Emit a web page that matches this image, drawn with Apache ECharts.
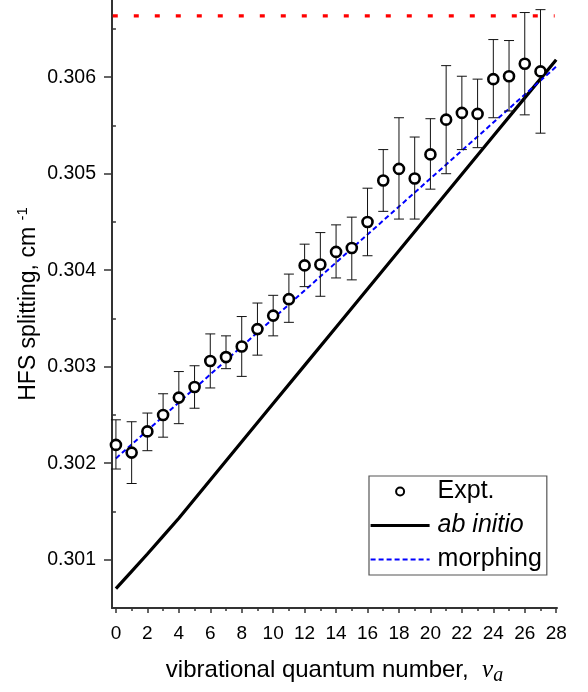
<!DOCTYPE html>
<html><head><meta charset="utf-8">
<script src="https://cdn.jsdelivr.net/npm/echarts@6/dist/echarts.min.js"></script>
<style>html,body{margin:0;padding:0;background:#fff}#c{width:588px;height:692px}</style>
</head><body><div id="c"></div>
<script>
// ---- data ----
const vib = [0,1,2,3,4,5,6,7,8,9,10,11,12,13,14,15,16,17,18,19,20,21,22,23,24,25,26,27];
const expt = [0.30219,0.30211,0.30233,0.30250,0.30268,0.30279,0.30306,0.30310,0.30321,0.30339,0.30353,0.30370,
  0.30405,0.30406,0.30419,0.30423,0.30450,0.30493,0.30505,0.30495,0.30520,0.30556,0.30563,0.30562,0.30598,0.30601,0.30614,0.30606];
const errLow = [0.30194,0.30179,0.30213,0.30227,0.30241,0.30257,0.30278,0.30298,0.30290,0.30312,0.30332,0.30346,
  0.30383,0.30373,0.30392,0.30390,0.30415,0.30461,0.30453,0.30453,0.30484,0.30500,0.30525,0.30527,0.30558,0.30565,0.30561,0.30542];
const errHigh = [0.30245,0.30243,0.30252,0.30272,0.30295,0.30301,0.30334,0.30332,0.30352,0.30366,0.30374,0.30396,
  0.30427,0.30439,0.30447,0.30455,0.30485,0.30525,0.30558,0.30538,0.30557,0.30612,0.30601,0.30598,0.30639,0.30638,0.30667,0.30670];
const abInitioV = [0,1,2,3,4,6,8,10,12,14,16,18,20,22,24,26,28];
const abInitioVal = [0.30070,0.30088,0.30106,0.301245,0.30143,0.301826,0.302222,0.302618,0.303014,0.30341,
  0.303806,0.304202,0.304598,0.304994,0.30539,0.305786,0.306182];
const morphV = [0, 28];
const morphVal = [0.30205, 0.30611];
const limitV = [-0.2, 27.9];
const limitVal = [0.306635, 0.306635];
const yMajor = [0.301,0.302,0.303,0.304,0.305,0.306];
const yMinor = [0.3005,0.3015,0.3025,0.3035,0.3045,0.3055,0.3065];
const xMajor = [0,2,4,6,8,10,12,14,16,18,20,22,24,26,28];
const xMinor = [1,3,5,7,9,11,13,15,17,19,21,23,25,27];

const zip = (a, b) => a.map((v, i) => [v, b[i]]);
const axisCol = '#333';
const font = 'Liberation Sans, Arial, sans-serif';
const serif = 'Liberation Serif, Times New Roman, serif';

const chart = echarts.init(document.getElementById('c'));
chart.setOption({
  animation: false,
  backgroundColor: '#fff',
  textStyle: {fontFamily: font, color: '#000'},
  grid: {left: 112, right: 31, top: 0, bottom: 84},
  xAxis: [{
    type: 'value', min: -0.25, max: 28.05,
    axisLine: {show: true, onZero: false, lineStyle: {color: axisCol, width: 2}},
    axisTick: {show: true, customValues: xMajor, length: 5, lineStyle: {color: axisCol, width: 1.5}},
    axisLabel: {customValues: xMajor, fontSize: 19, color: '#000', margin: 16, fontFamily: font},
    splitLine: {show: false},
    name: '{t|vibrational quantum number,  }{v|v}{s|a}',
    nameLocation: 'middle', nameGap: 46,
    nameTextStyle: {
      rich: {
        t: {fontSize: 24, fontFamily: font, color: '#000'},
        v: {fontSize: 25, fontFamily: serif, fontStyle: 'italic', color: '#000'},
        s: {fontSize: 20, fontFamily: serif, fontStyle: 'italic', color: '#000', padding: [12, 0, 0, 0]}
      }
    }
  }, {
    type: 'value', min: -0.25, max: 28.05, position: 'bottom',
    axisLine: {show: false},
    axisTick: {show: true, customValues: xMinor, length: 3, lineStyle: {color: axisCol, width: 1.5}},
    axisLabel: {show: false},
    splitLine: {show: false}
  }],
  yAxis: [{
    type: 'value', min: 0.3005, max: 0.3068,
    axisLine: {show: true, onZero: false, lineStyle: {color: axisCol, width: 2}},
    axisTick: {show: true, customValues: yMajor, length: 8, lineStyle: {color: axisCol, width: 1.5}},
    axisLabel: {customValues: yMajor, fontSize: 19.5, color: '#000', margin: 16, fontFamily: font,
      formatter: v => v.toFixed(3)},
    splitLine: {show: false},
    name: '{t|HFS splitting, cm }{u|-1}',
    nameLocation: 'middle', nameGap: 70, nameRotate: 90, nameMoveOverlap: false,
    nameTextStyle: {
      rich: {
        t: {fontSize: 23, fontFamily: font, color: '#000'},
        u: {fontSize: 15, fontFamily: font, color: '#000', padding: [0, 0, 12, 0]}
      }
    }
  }, {
    type: 'value', min: 0.3005, max: 0.3068, position: 'left',
    axisLine: {show: false},
    axisTick: {show: true, customValues: yMinor, length: 4, lineStyle: {color: axisCol, width: 1.5}},
    axisLabel: {show: false},
    splitLine: {show: false}
  }],
  legend: {
    orient: 'vertical', left: 369, top: 476,
    padding: [3, 5, 3, 0],
    borderColor: '#555', borderWidth: 1.2,
    itemWidth: 59, itemHeight: 8, itemGap: 9,
    textStyle: {fontSize: 25, fontFamily: font, color: '#000', padding: [0, 0, 0, 3]},
    data: [
      {name: 'Expt.'},
      {name: 'ab initio', textStyle: {fontStyle: 'italic'}, lineStyle: {width: 3.2},
        itemStyle: {opacity: 0, borderWidth: 0, color: 'rgba(0,0,0,0)'}},
      {name: 'morphing', lineStyle: {width: 2},
        itemStyle: {opacity: 0, borderWidth: 0, color: 'rgba(0,0,0,0)'}}
    ]
  },
  series: [
    {
      name: 'limit', type: 'line', data: zip(limitV, limitVal), symbol: 'none', silent: true,
      lineStyle: {color: '#ff0000', width: 3.3, type: [5, 16]}, z: 1
    },
    {
      name: 'ab initio', type: 'line', data: zip(abInitioV, abInitioVal), symbol: 'none', smooth: false,
      lineStyle: {color: '#000', width: 3.2}, itemStyle: {color: '#000'}, z: 2
    },
    {
      name: 'morphing', type: 'line', data: zip(morphV, morphVal), symbol: 'none',
      lineStyle: {color: '#0000ff', width: 2, type: [5, 3]}, itemStyle: {color: '#0000ff'}, z: 3
    },
    {
      name: 'err', type: 'custom', z: 4, silent: true,
      data: vib.map((v, i) => [v, errLow[i], errHigh[i]]),
      encode: {x: 0, y: [1, 2]},
      renderItem: (params, api) => {
        const x = api.value(0);
        const lo = api.coord([x, api.value(1)]);
        const hi = api.coord([x, api.value(2)]);
        const hw = 5;
        const st = {stroke: '#111', lineWidth: 1};
        return {type: 'group', children: [
          {type: 'line', shape: {x1: lo[0], y1: lo[1], x2: hi[0], y2: hi[1]}, style: st},
          {type: 'line', shape: {x1: lo[0] - hw, y1: lo[1], x2: lo[0] + hw, y2: lo[1]}, style: st},
          {type: 'line', shape: {x1: hi[0] - hw, y1: hi[1], x2: hi[0] + hw, y2: hi[1]}, style: st}
        ]};
      }
    },
    {
      name: 'Expt.', type: 'scatter', data: zip(vib, expt), symbol: 'circle', symbolSize: 10,
      itemStyle: {color: '#fff', borderColor: '#000', borderWidth: 2.6, opacity: 1}, z: 5
    }
  ]
});
</script></body></html>
